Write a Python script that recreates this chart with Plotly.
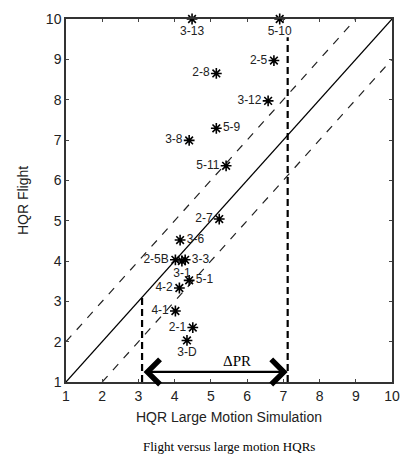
import plotly.graph_objects as go

# Data
labels = ["3-13", "5-10", "2-5", "2-8", "3-12", "5-9", "3-8", "5-11", "2-7",
          "3-6", "2-5B", "3-3", "3-1", "5-1", "4-2", "4-1", "2-1", "3-D"]
sim_hqr = [4.48, 6.90, 6.74, 5.15, 6.58, 5.15, 4.40, 5.42, 5.23,
           4.15, 4.02, 4.29, 4.20, 4.40, 4.13, 4.02, 4.50, 4.34]
flight_hqr = [10.0, 10.0, 8.97, 8.65, 7.97, 7.29, 6.99, 6.36, 5.04,
              4.52, 4.03, 4.03, 4.0, 3.52, 3.33, 2.76, 2.35, 2.03]
label_pos = ["bottom center", "bottom center", "middle left", "middle left", "middle left",
             "middle right", "middle left", "middle left", "middle left",
             "middle right", "middle left", "middle right", "bottom center", "middle right",
             "middle left", "middle left", "middle left", "bottom center"]

axis_ticks = [1, 2, 3, 4, 5, 6, 7, 8, 9, 10]
band = 1.0          # +/- 1 HQR band
pr_low, pr_high = 3.1, 7.12   # Delta PR bounds
pr_y = 1.25
pr_top = 9.55

fig = go.Figure()

# y = x line
fig.add_trace(go.Scatter(x=[1, 10], y=[1, 10], mode="lines",
                         line=dict(color="black", width=1.2), hoverinfo="skip"))
# +/- band dashed
fig.add_trace(go.Scatter(x=[1, 10 - band], y=[1 + band, 10], mode="lines",
                         line=dict(color="#222", width=1.2, dash="8px,8px"), hoverinfo="skip"))
fig.add_trace(go.Scatter(x=[1 + band, 10], y=[1, 10 - band], mode="lines",
                         line=dict(color="#222", width=1.2, dash="8px,8px"), hoverinfo="skip"))
# Delta PR vertical dashed lines
fig.add_trace(go.Scatter(x=[pr_low, pr_low], y=[1, pr_low], mode="lines",
                         line=dict(color="black", width=2.2, dash="7px,4px"), hoverinfo="skip"))
fig.add_trace(go.Scatter(x=[pr_high, pr_high], y=[1, pr_top], mode="lines",
                         line=dict(color="black", width=2.2, dash="7px,4px"), hoverinfo="skip"))

# Data points
fig.add_trace(go.Scatter(
    x=sim_hqr, y=flight_hqr, mode="markers+text", text=labels,
    textposition=label_pos,
    textfont=dict(family="Liberation Sans, Arial", size=12, color="#222"),
    marker=dict(symbol="asterisk-open", size=9, color="black",
                line=dict(color="black", width=1.6)),
    cliponaxis=False, hoverinfo="skip"))

# Delta PR double arrow
fig.add_annotation(x=pr_high, y=pr_y, ax=pr_low, ay=pr_y, xref="x", yref="y",
                   axref="x", ayref="y", text="", showarrow=True,
                   arrowhead=4, startarrowhead=4, arrowside="end+start",
                   arrowsize=2.2, startarrowsize=2.2, arrowwidth=2.2, arrowcolor="black")
fig.add_annotation(x=(pr_low + pr_high) / 2 + 0.6, y=pr_y, xref="x", yref="y",
                   text="ΔPR", showarrow=False, yanchor="bottom", yshift=1,
                   font=dict(family="Liberation Serif, Times New Roman", size=15, color="black"))

# Caption
fig.add_annotation(x=0.5, y=-0.152, xref="paper", yref="paper", text="Flight versus large motion HQRs",
                   showarrow=False, yanchor="top",
                   font=dict(family="Liberation Serif, Times New Roman", size=13, color="black"))

axis_common = dict(range=[1, 10], tickvals=axis_ticks, ticks="inside", ticklen=3,
                   tickcolor="#444", showline=True, linecolor="#333", linewidth=1.5,
                   mirror="ticks", showgrid=False, zeroline=False,
                   tickfont=dict(family="Liberation Sans, Arial", size=14, color="#222"))

fig.update_layout(
    width=411, height=465,
    margin=dict(l=66, r=11, t=14, b=83),
    paper_bgcolor="white", plot_bgcolor="white",
    showlegend=False,
    xaxis=dict(**axis_common, title=dict(text="HQR Large Motion Simulation", standoff=10,
                                         font=dict(family="Liberation Sans, Arial", size=14, color="#222"))),
    yaxis=dict(**axis_common, title=dict(text="HQR Flight", standoff=14,
                                         font=dict(family="Liberation Sans, Arial", size=14, color="#222"))),
)

fig.write_html("out.html")
